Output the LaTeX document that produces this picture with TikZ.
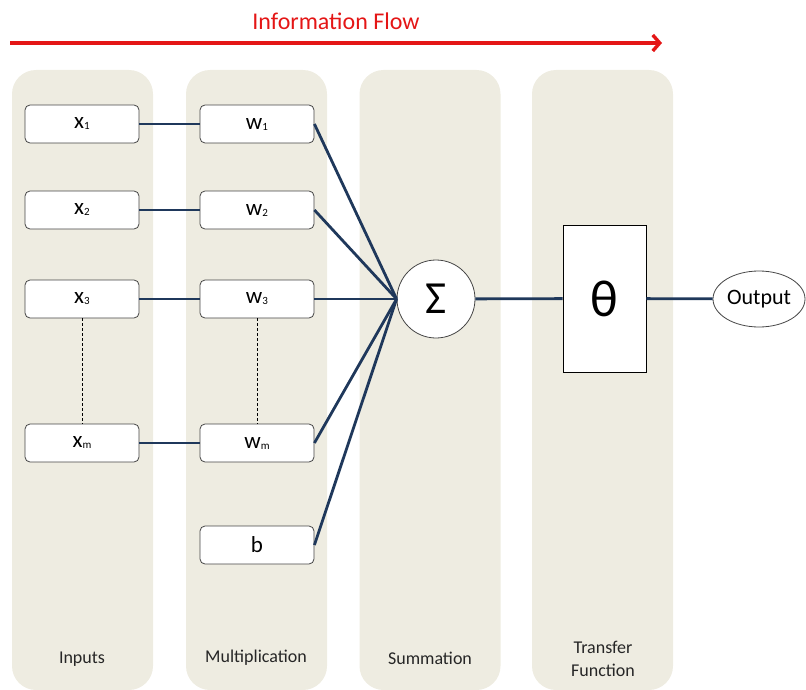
\documentclass[tikz,border=0pt]{standalone}
\usepackage{fontspec}
\setmainfont{Carlito}
\usetikzlibrary{shapes.geometric,arrows.meta}
\definecolor{colfill}{RGB}{238,236,225}
\definecolor{navy}{RGB}{31,56,91}
\definecolor{flowred}{RGB}{228,22,22}
\definecolor{boxline}{RGB}{70,70,70}
\newcommand{\vsub}[2]{{\fontsize{23}{23}\selectfont #1}\raisebox{-1pt}{\fontsize{11}{11}\selectfont #2}}
\begin{document}
\begin{tikzpicture}[x=1pt,y=-1pt,
  colbox/.style={fill=colfill, draw=none, rounded corners=24pt, minimum width=141pt, minimum height=620pt, inner sep=0pt},
  vbox/.style={draw=boxline, line width=0.8pt, fill=white, rounded corners=5pt, minimum width=114pt, minimum height=38pt, inner sep=0pt},
  lbl/.style={font=\fontsize{18}{23}\selectfont, text=black!85, align=center},
  conn/.style={draw=navy, line width=2.8pt},
  dots/.style={draw=black, line width=0.6pt, dash pattern=on 3pt off 2pt}]
\useasboundingbox (0,0) rectangle (806,690);

% columns
\node[colbox] (cin)  at (82.5,380) {};
\node[colbox] (cmul) at (256.5,380) {};
\node[colbox] (csum) at (430,380) {};
\node[colbox] (ctf)  at (602.5,380) {};

% info flow
\node[font=\fontsize{24}{28}\selectfont, text=flowred] (flow) at (336,21) {Information Flow};
\coordinate (fa) at (10,43);
\coordinate (fb) at (662,43);
\draw[flowred, line width=3.6pt, -{Straight Barb[length=7pt,width=16pt,line width=3.4pt]}] (fa) -- (fb);

% input boxes
\node[vbox] (x1) at (82,124) {\vsub{x}{1}};
\node[vbox] (x2) at (82,210) {\vsub{x}{2}};
\node[vbox] (x3) at (82,299) {\vsub{x}{3}};
\node[vbox] (xm) at (82,443) {\vsub{x}{m}};

\node[vbox] (w1) at (257,124) {\vsub{w}{1}};
\node[vbox] (w2) at (257,210) {\vsub{w}{2}};
\node[vbox] (w3) at (257,299) {\vsub{w}{3}};
\node[vbox] (wm) at (257,443) {\vsub{w}{m}};
\node[vbox] (b)  at (257,545) {\fontsize{23}{23}\selectfont b};

% sigma, theta, output
\node[circle, draw=boxline, line width=0.8pt, fill=white, minimum size=78pt, inner sep=0pt, font=\fontsize{46}{46}\selectfont] (sig) at (436,299) {Σ};
\node[rectangle, draw=black, line width=0.8pt, fill=white, minimum width=83pt, minimum height=147pt, inner sep=0pt, font=\fontsize{52}{52}\selectfont] (th) at (604.5,298.5) {θ};
\node[ellipse, draw=boxline, line width=0.8pt, fill=white, minimum width=92pt, minimum height=56pt, inner sep=0pt, font=\fontsize{22}{22}\selectfont] (out) at (759,299) {Output};

% connectors
\draw[conn] (x1) -- (w1);
\draw[conn] (x2) -- (w2);
\draw[conn] (x3) -- (w3);
\draw[conn] (xm) -- (wm);
\draw[conn] (w1.east) -- (sig.west);
\draw[conn] (w2.east) -- (sig.west);
\draw[conn] (w3.east) -- (sig.west);
\draw[conn] (wm.east) -- (sig.west);
\draw[conn] (b.east) -- (sig.west);
\draw[conn] (sig) -- (th);
\draw[conn] (th) -- (out);
\draw[dots] (x3) -- (xm);
\draw[dots] (w3) -- (wm);

% labels
\node[lbl] (lin)  at (82,659) {Inputs};
\node[lbl] (lmul) at (256,658) {Multiplication};
\node[lbl] (lsum) at (430,658) {Summation};
\node[lbl] (ltf)  at (603,659) {Transfer\\Function};
\end{tikzpicture}
\end{document}
